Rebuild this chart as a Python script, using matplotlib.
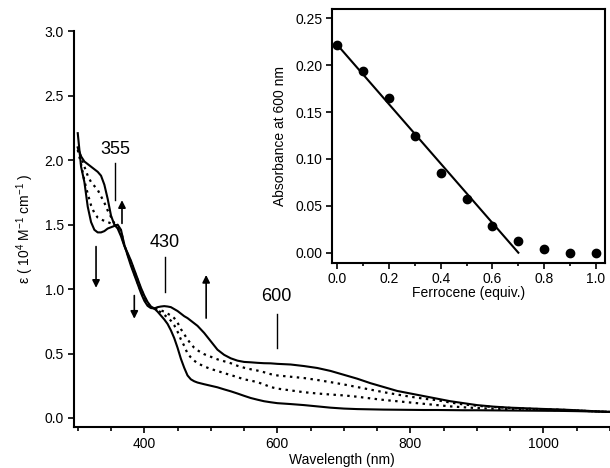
import matplotlib
matplotlib.use("Agg")
import matplotlib.pyplot as plt
from matplotlib.ticker import MultipleLocator, FixedLocator, FormatStrFormatter

plt.rcParams['font.family'] = ['Liberation Sans', 'DejaVu Sans']
plt.rcParams['mathtext.fontset'] = 'custom'
plt.rcParams['mathtext.rm'] = 'Liberation Sans'
plt.rcParams['mathtext.default'] = 'regular'

# ---------------- data ----------------
wavelength = [300, 305, 310, 315, 320, 325, 330, 335, 340, 345, 350, 355, 360, 365, 370,
              375, 380, 385, 390, 395, 400, 405, 410, 415, 420, 425, 430, 435, 440, 445,
              450, 455, 460, 465, 470, 475, 480, 490, 500, 510, 520, 530, 540, 550, 560,
              570, 580, 590, 600, 620, 640, 660, 680, 700, 720, 740, 760, 780, 800, 820,
              840, 860, 880, 900, 925, 950, 975, 1000, 1025, 1050, 1075, 1100]

# initial spectrum (high in UV, low in visible)
eps_initial = [2.10, 2.03, 1.99, 1.97, 1.95, 1.93, 1.91, 1.88, 1.81, 1.70, 1.57, 1.50, 1.47, 1.41, 1.335,
               1.28, 1.22, 1.15, 1.08, 1.01, 0.95, 0.90, 0.865, 0.85, 0.825, 0.795, 0.765, 0.73, 0.68, 0.62,
               0.545, 0.46, 0.39, 0.33, 0.30, 0.285, 0.275, 0.262, 0.25, 0.238, 0.222, 0.207, 0.19, 0.172, 0.155,
               0.142, 0.13, 0.122, 0.115, 0.108, 0.10, 0.09, 0.08, 0.073, 0.069, 0.067, 0.065, 0.064, 0.063, 0.062,
               0.062, 0.061, 0.060, 0.060, 0.059, 0.058, 0.057, 0.056, 0.055, 0.053, 0.050, 0.047]

# intermediate 1
eps_mid1 = [2.10, 2.02, 1.95, 1.88, 1.83, 1.80, 1.77, 1.72, 1.67, 1.61, 1.56, 1.51, 1.48, 1.43, 1.34,
            1.27, 1.21, 1.14, 1.07, 1.00, 0.94, 0.89, 0.86, 0.85, 0.835, 0.82, 0.80, 0.78, 0.755, 0.72,
            0.67, 0.61, 0.56, 0.50, 0.47, 0.445, 0.425, 0.40, 0.38, 0.365, 0.348, 0.333, 0.317, 0.30, 0.29,
            0.278, 0.26, 0.24, 0.228, 0.214, 0.20, 0.19, 0.182, 0.175, 0.165, 0.152, 0.14, 0.13, 0.12, 0.11,
            0.10, 0.09, 0.083, 0.077, 0.072, 0.068, 0.065, 0.063, 0.060, 0.057, 0.052, 0.047]

# intermediate 2
eps_mid2 = [2.08, 1.97, 1.84, 1.74, 1.65, 1.59, 1.555, 1.54, 1.53, 1.52, 1.51, 1.50, 1.49, 1.45, 1.34,
            1.27, 1.20, 1.12, 1.05, 0.98, 0.92, 0.88, 0.855, 0.85, 0.845, 0.835, 0.825, 0.81, 0.795, 0.775,
            0.74, 0.69, 0.65, 0.61, 0.575, 0.545, 0.525, 0.495, 0.475, 0.455, 0.44, 0.425, 0.405, 0.39, 0.378,
            0.368, 0.355, 0.34, 0.33, 0.32, 0.31, 0.295, 0.278, 0.26, 0.24, 0.22, 0.20, 0.182, 0.165, 0.15,
            0.138, 0.12, 0.105, 0.095, 0.085, 0.078, 0.072, 0.068, 0.064, 0.058, 0.052, 0.047]

# final spectrum (low in UV, high in visible)
eps_final = [2.21, 1.95, 1.83, 1.64, 1.52, 1.46, 1.44, 1.44, 1.45, 1.47, 1.48, 1.49, 1.50, 1.46, 1.345,
             1.26, 1.18, 1.11, 1.04, 0.97, 0.91, 0.87, 0.853, 0.85, 0.86, 0.865, 0.868, 0.865, 0.86, 0.845,
             0.83, 0.81, 0.79, 0.775, 0.755, 0.735, 0.715, 0.66, 0.595, 0.53, 0.49, 0.463, 0.445, 0.435, 0.432,
             0.428, 0.425, 0.424, 0.42, 0.415, 0.403, 0.388, 0.365, 0.335, 0.305, 0.27, 0.24, 0.21, 0.19, 0.17,
             0.15, 0.13, 0.115, 0.10, 0.088, 0.08, 0.075, 0.07, 0.066, 0.06, 0.053, 0.047]

# inset: titration
ferrocene_equiv = [0.0, 0.1, 0.2, 0.3, 0.4, 0.5, 0.6, 0.7, 0.8, 0.9, 1.0]
absorbance_600 = [0.221, 0.194, 0.165, 0.124, 0.085, 0.057, 0.029, 0.013, 0.004, 0.0, 0.0]
fit_x = [0.0, 0.7]
fit_y = [0.222, 0.0]

peak_labels = ["355", "430", "600"]
peak_positions = [356, 431, 599]

# ---------------- figure ----------------
fig = plt.figure(figsize=(6.10, 4.68), dpi=100)
ax = fig.add_axes([0.122, 0.0876, 0.878, 0.8454])

dot = (0, (1.1, 2.0))
ax.plot(wavelength, eps_initial, color='black', lw=1.5)
ax.plot(wavelength, eps_mid1, color='black', lw=1.6, ls=dot)
ax.plot(wavelength, eps_mid2, color='black', lw=1.6, ls=dot)
ax.plot(wavelength, eps_final, color='black', lw=1.5)

ax.set_xlim(295, 1100)
ax.set_ylim(-0.07, 3.0)
for s in ['top', 'right']:
    ax.spines[s].set_visible(False)
ax.spines['left'].set_bounds(-0.07, 3.0)
for s in ['left', 'bottom']:
    ax.spines[s].set_linewidth(1.5)

ax.xaxis.set_major_locator(FixedLocator([400, 600, 800, 1000]))
ax.xaxis.set_minor_locator(MultipleLocator(50))
ax.yaxis.set_major_locator(MultipleLocator(0.5))
ax.tick_params(axis='both', which='major', direction='out', length=4.5, width=1.2, labelsize=10, pad=3)
ax.tick_params(axis='x', which='minor', direction='out', length=3, width=1.2)
ax.yaxis.set_major_formatter(FormatStrFormatter('%.1f'))

ax.set_xlabel("Wavelength (nm)", fontsize=10, labelpad=1)
ax.set_ylabel(r"ε ( 10$^{4}$ M$^{-1}$ cm$^{-1}$ )", fontsize=10, labelpad=6)

# peak labels and marker lines
text_y = [2.08, 1.36, 0.94]
line_ranges = [(1.69, 1.98), (0.98, 1.25), (0.54, 0.81)]
for lab, xpos, ty, (y0, y1) in zip(peak_labels, peak_positions, text_y, line_ranges):
    ax.text(xpos, ty, lab, fontsize=13, ha='center', va='center')
    ax.plot([xpos, xpos], [y0, y1], color='black', lw=1.0)

# arrows
arrows = [(327.5, 1.33, 1.01), (366.5, 1.51, 1.69), (385, 0.95, 0.77), (493, 0.775, 1.11)]
for x, ys, ye in arrows:
    ax.annotate("", xy=(x, ye), xytext=(x, ys),
                arrowprops=dict(arrowstyle='-|>', color='black', lw=1.2,
                                mutation_scale=11, shrinkA=0, shrinkB=0))

# ---------------- inset ----------------
ins = fig.add_axes([0.544, 0.438, 0.448, 0.543])
ins.plot(ferrocene_equiv, absorbance_600, 'o', color='black', ms=6)
ins.plot(fit_x, fit_y, color='black', lw=1.5)
ins.set_xlim(-0.02, 1.035)
ins.set_ylim(-0.011, 0.26)
ins.xaxis.set_major_locator(MultipleLocator(0.2))
ins.xaxis.set_minor_locator(MultipleLocator(0.1))
ins.yaxis.set_major_locator(MultipleLocator(0.05))
ins.xaxis.set_major_formatter(FormatStrFormatter('%.1f'))
ins.yaxis.set_major_formatter(FormatStrFormatter('%.2f'))
ins.tick_params(axis='both', which='major', direction='out', length=4.5, width=1.2, labelsize=10, pad=2)
ins.tick_params(axis='x', which='minor', direction='out', length=2.5, width=1.2)
for s in ins.spines.values():
    s.set_linewidth(1.5)
ins.set_xlabel("Ferrocene (equiv.)", fontsize=10, labelpad=0)
ins.set_ylabel("Absorbance at 600 nm", fontsize=10, labelpad=6)

fig.savefig("out.png", dpi=100)
